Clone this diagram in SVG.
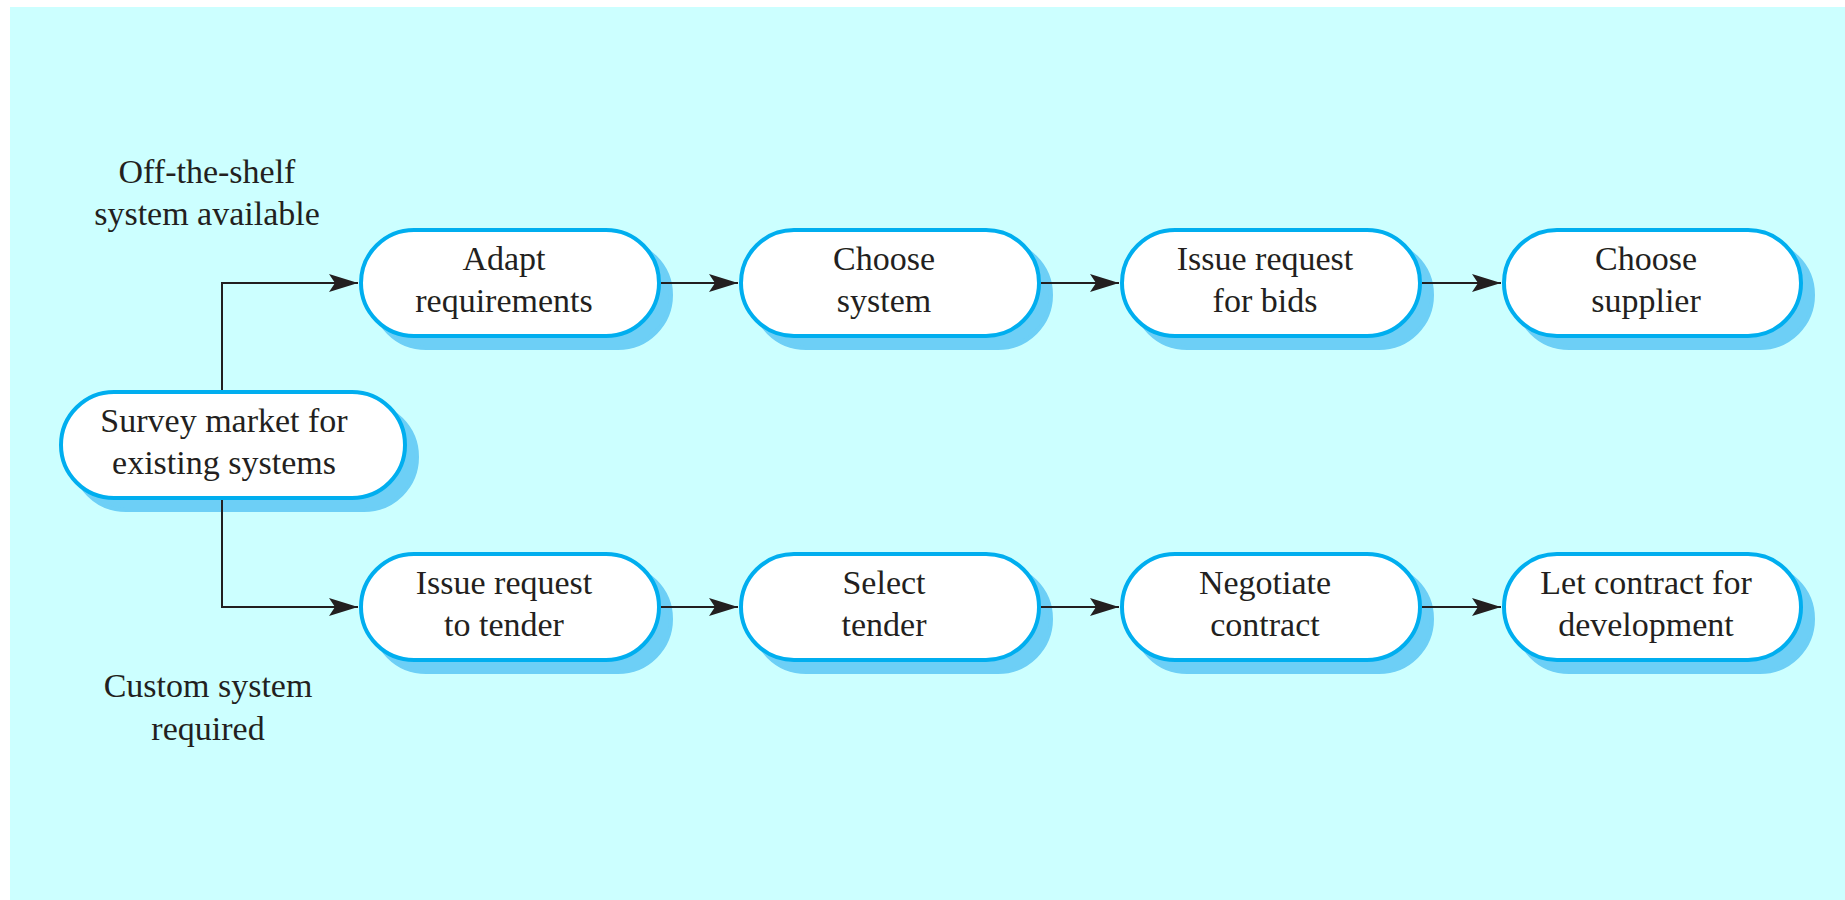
<svg xmlns="http://www.w3.org/2000/svg" width="1845" height="900" viewBox="0 0 1845 900">
<style>
.bg{fill:#ffffff}
.panel{fill:#ccffff}
.shadow{fill:#6dcff6;stroke:#6dcff6;stroke-width:4}
.box{fill:#ffffff;stroke:#00aeef;stroke-width:4}
.t{font-family:"Liberation Serif","Times New Roman",serif;font-size:34px;fill:#231f20;text-anchor:middle}
.conn{fill:none;stroke:#231f20;stroke-width:2}
</style>
<defs>
<marker id="arr" markerUnits="userSpaceOnUse" markerWidth="32" markerHeight="22" viewBox="-30 -11 32 22" refX="0" refY="0" orient="auto">
<path d="M0,0 L-29,-9 L-23,0 L-29,9 Z" fill="#231f20"/>
</marker>
</defs>
<rect class="bg" x="0" y="0" width="1845" height="900"/>
<rect class="panel" x="10" y="7" width="1835" height="893"/>

<g id="survey">
<rect class="shadow" x="73" y="404" width="344" height="106" rx="53"/>
<rect class="box" x="61" y="392" width="344" height="106" rx="53"/>
<text class="t" x="224" y="432">Survey market for</text>
<text class="t" x="224" y="474">existing systems</text>
</g>

<g id="adapt">
<rect class="shadow" x="373" y="242" width="298" height="106" rx="53"/>
<rect class="box" x="361" y="230" width="298" height="106" rx="53"/>
<text class="t" x="504" y="270">Adapt</text>
<text class="t" x="504" y="312">requirements</text>
</g>

<g id="choose-system">
<rect class="shadow" x="753" y="242" width="298" height="106" rx="53"/>
<rect class="box" x="741" y="230" width="298" height="106" rx="53"/>
<text class="t" x="884" y="270">Choose</text>
<text class="t" x="884" y="312">system</text>
</g>

<g id="issue-bids">
<rect class="shadow" x="1134" y="242" width="298" height="106" rx="53"/>
<rect class="box" x="1122" y="230" width="298" height="106" rx="53"/>
<text class="t" x="1265" y="270">Issue request</text>
<text class="t" x="1265" y="312">for bids</text>
</g>

<g id="choose-supplier">
<rect class="shadow" x="1516" y="242" width="297" height="106" rx="53"/>
<rect class="box" x="1504" y="230" width="297" height="106" rx="53"/>
<text class="t" x="1646" y="270">Choose</text>
<text class="t" x="1646" y="312">supplier</text>
</g>

<g id="issue-tender">
<rect class="shadow" x="373" y="566" width="298" height="106" rx="53"/>
<rect class="box" x="361" y="554" width="298" height="106" rx="53"/>
<text class="t" x="504" y="594">Issue request</text>
<text class="t" x="504" y="636">to tender</text>
</g>

<g id="select-tender">
<rect class="shadow" x="753" y="566" width="298" height="106" rx="53"/>
<rect class="box" x="741" y="554" width="298" height="106" rx="53"/>
<text class="t" x="884" y="594">Select</text>
<text class="t" x="884" y="636">tender</text>
</g>

<g id="negotiate">
<rect class="shadow" x="1134" y="566" width="298" height="106" rx="53"/>
<rect class="box" x="1122" y="554" width="298" height="106" rx="53"/>
<text class="t" x="1265" y="594">Negotiate</text>
<text class="t" x="1265" y="636">contract</text>
</g>

<g id="let-contract">
<rect class="shadow" x="1516" y="566" width="297" height="106" rx="53"/>
<rect class="box" x="1504" y="554" width="297" height="106" rx="53"/>
<text class="t" x="1646" y="594">Let contract for</text>
<text class="t" x="1646" y="636">development</text>
</g>

<g id="connectors">
<path class="conn" d="M222,390 V283 H358" marker-end="url(#arr)"/>
<path class="conn" d="M222,500 V607 H358" marker-end="url(#arr)"/>
<path class="conn" d="M661,283 H738" marker-end="url(#arr)"/>
<path class="conn" d="M1041,283 H1119" marker-end="url(#arr)"/>
<path class="conn" d="M1422,283 H1501" marker-end="url(#arr)"/>
<path class="conn" d="M661,607 H738" marker-end="url(#arr)"/>
<path class="conn" d="M1041,607 H1119" marker-end="url(#arr)"/>
<path class="conn" d="M1422,607 H1501" marker-end="url(#arr)"/>
</g>

<g id="labels">
<text class="t" x="207" y="183">Off-the-shelf</text>
<text class="t" x="207" y="225">system available</text>
<text class="t" x="208" y="697">Custom system</text>
<text class="t" x="208" y="740">required</text>
</g>
</svg>
